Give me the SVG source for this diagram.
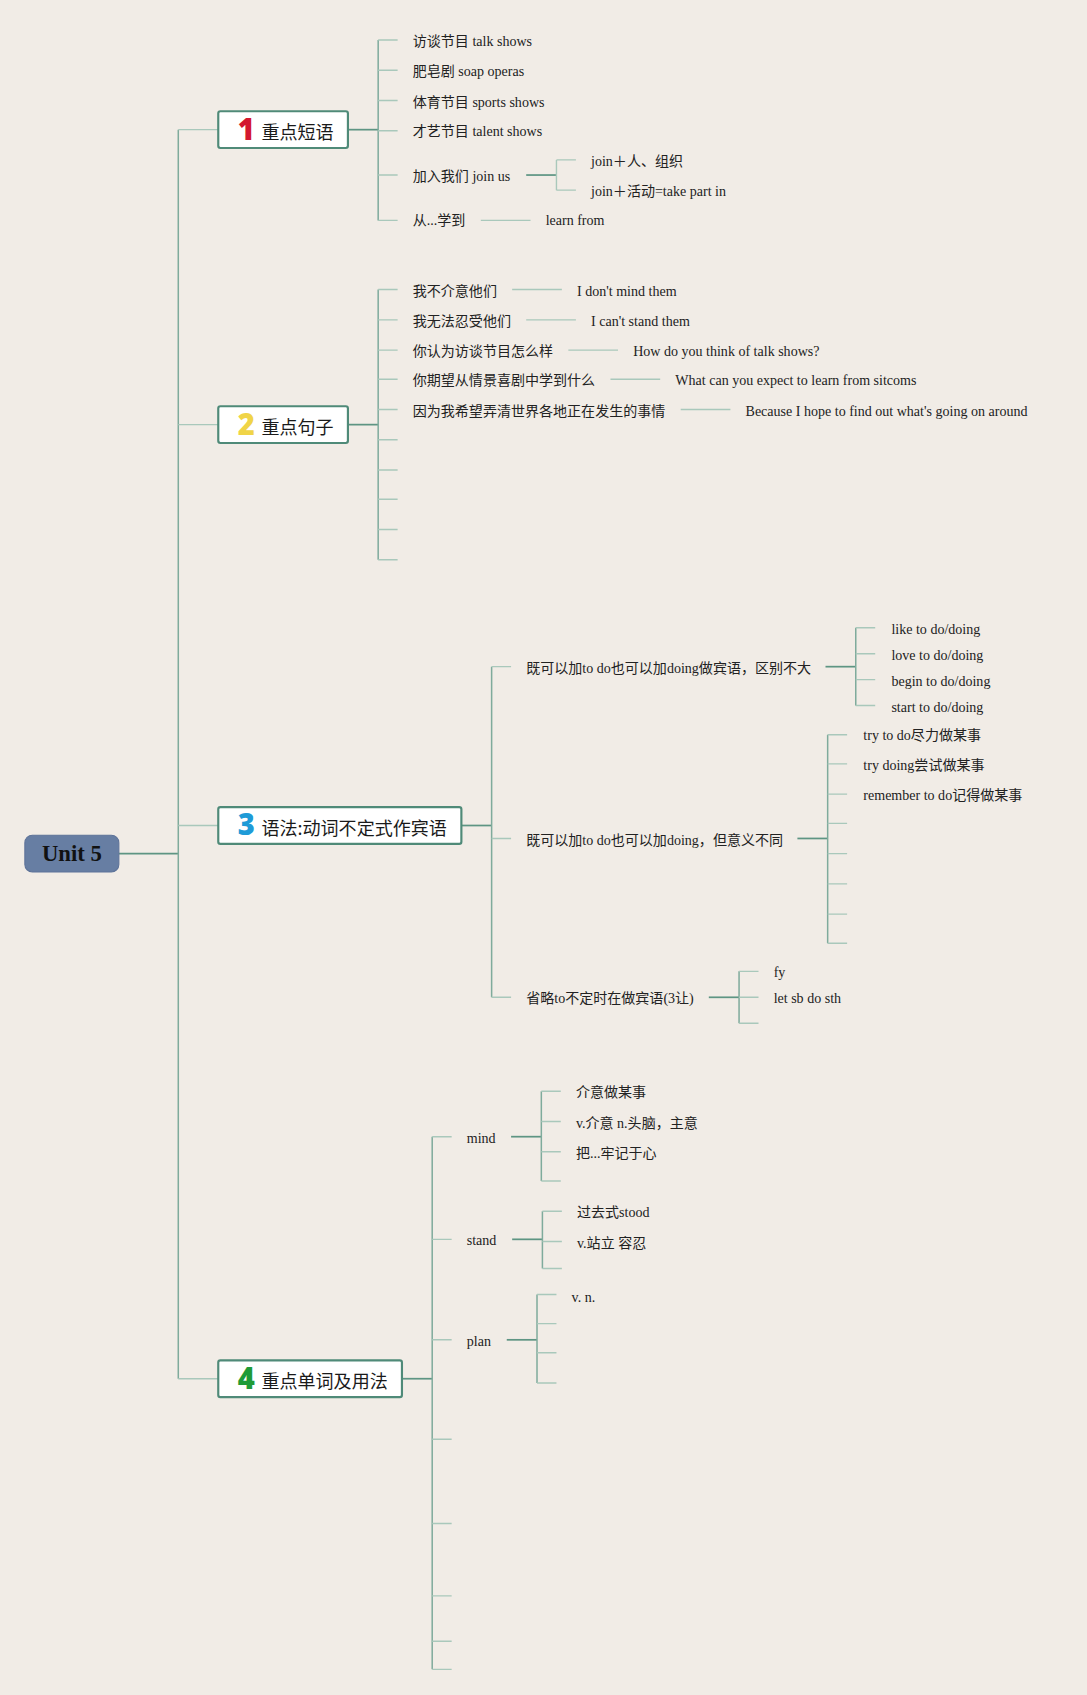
<svg xmlns="http://www.w3.org/2000/svg" width="1087" height="1695" viewBox="0 0 1087 1695">
<style>
.bg{fill:#f1ece6}
.d{stroke:#5e9583;stroke-width:1.6;fill:none}
.m{stroke:#7fab9c;stroke-width:1.4;fill:none}
.l{stroke:#a9c8bb;stroke-width:1.3;fill:none}
.t{font-family:"Liberation Serif","Noto Sans CJK SC",serif;font-size:13px;fill:#222;dominant-baseline:central}
.box{fill:#ffffff;stroke:#4f8a78;stroke-width:2}
.bt{font-family:"Noto Sans CJK SC","Noto Sans",sans-serif;font-size:16.7px;fill:#1a1a1a;dominant-baseline:central}
.num{font-family:"Noto Sans","DejaVu Sans",sans-serif;font-size:27px;font-weight:900;dominant-baseline:central}
.root{fill:#677ea3;stroke:#5e7399;stroke-width:1}
.rt{font-family:"Liberation Serif",serif;font-size:21px;font-weight:bold;fill:#111;dominant-baseline:central}
</style>
<rect class="bg" x="0" y="0" width="1087" height="1695"/>
<g transform="scale(1.0805)">
<g id="connectors">
  <path class="d" d="M110,790 H165"/>
  <path class="m" d="M165,120 V1276"/>
  <path class="l" d="M165,120 H202 M165,393 H202 M165,764 H202 M165,1276 H202"/>
  <path class="d" d="M322,120 H350"/>
  <path class="m" d="M350,37 V204"/>
  <path class="l" d="M350,37 H368 M350,65 H368 M350,93 H368 M350,121 H368 M350,162 H368 M350,204 H368"/>
  <path class="d" d="M487,162 H515"/>
  <path class="l" d="M515,148 V176 M515,148 H533 M515,176 H533"/>
  <path class="l" d="M445,204 H491"/>
  <path class="d" d="M322,393 H350"/>
  <path class="m" d="M350,268 V518"/>
  <path class="l" d="M350,268 H368 M350,296 H368 M350,324 H368 M350,351 H368 M350,379 H368 M350,407 H368 M350,435 H368 M350,462 H368 M350,490 H368 M350,518 H368"/>
  <path class="l" d="M474,268 H520 M487,296 H533 M526,324 H572 M565,351 H611 M630,379 H676"/>
  <path class="d" d="M427,764 H455"/>
  <path class="m" d="M455,617 V923"/>
  <path class="l" d="M455,617 H473 M455,776 H473 M455,923 H473"/>
  <path class="d" d="M764,617 H792"/>
  <path class="m" d="M792,581 V653"/>
  <path class="l" d="M792,581 H810 M792,605 H810 M792,629 H810 M792,653 H810"/>
  <path class="d" d="M738,776 H766"/>
  <path class="m" d="M766,680 V873"/>
  <path class="l" d="M766,680 H784 M766,707 H784 M766,735 H784 M766,762 H784 M766,790 H784 M766,818 H784 M766,846 H784 M766,873 H784"/>
  <path class="d" d="M656,923 H684"/>
  <path class="m" d="M684,899 V947"/>
  <path class="l" d="M684,899 H702 M684,923 H702 M684,947 H702"/>
  <path class="d" d="M372,1276 H400"/>
  <path class="m" d="M400,1052 V1545"/>
  <path class="l" d="M400,1052 H418 M400,1147 H418 M400,1240 H418 M400,1332 H418 M400,1410 H418 M400,1477 H418 M400,1519 H418 M400,1545 H418"/>
  <path class="d" d="M473,1052 H501"/>
  <path class="m" d="M501,1010 V1093"/>
  <path class="l" d="M501,1010 H519 M501,1038 H519 M501,1066 H519 M501,1093 H519"/>
  <path class="d" d="M474,1147 H502"/>
  <path class="m" d="M502,1121 V1174"/>
  <path class="l" d="M502,1121 H520 M502,1149 H520 M502,1174 H520"/>
  <path class="d" d="M469,1240 H497"/>
  <path class="m" d="M497,1198 V1280"/>
  <path class="l" d="M497,1198 H515 M497,1225 H515 M497,1252 H515 M497,1280 H515"/>
</g>
<g id="root">
  <rect class="root" x="23" y="773" width="87" height="34" rx="7"/>
  <text class="rt" x="66.5" y="790" text-anchor="middle">Unit 5</text>
</g>
<g id="n1">
  <rect class="box" x="202" y="103" width="120" height="34" rx="2"/>
  <text class="num" x="228" y="119" text-anchor="middle" fill="#d3182f">1</text>
  <text class="bt" x="242" y="121">重点短语</text>
</g>
<g id="n2">
  <rect class="box" x="202" y="376" width="120" height="34" rx="2"/>
  <text class="num" x="228" y="392" text-anchor="middle" fill="#f0d447">2</text>
  <text class="bt" x="242" y="394">重点句子</text>
</g>
<g id="n3">
  <rect class="box" x="202" y="747" width="225" height="34" rx="2"/>
  <text class="num" x="228" y="763" text-anchor="middle" fill="#1f9bd7">3</text>
  <text class="bt" x="242" y="765">语法:动词不定式作宾语</text>
</g>
<g id="n4">
  <rect class="box" x="202" y="1259" width="170" height="34" rx="2"/>
  <text class="num" x="228" y="1275" text-anchor="middle" fill="#1f9b37">4</text>
  <text class="bt" x="242" y="1277">重点单词及用法</text>
</g>
<g id="leaves1">
  <text class="t" x="382" y="38">访谈节目 talk shows</text>
  <text class="t" x="382" y="66">肥皂剧 soap operas</text>
  <text class="t" x="382" y="94">体育节目 sports shows</text>
  <text class="t" x="382" y="121">才艺节目 talent shows</text>
  <text class="t" x="382" y="163">加入我们 join us</text>
  <text class="t" x="547" y="149">join＋人、组织</text>
  <text class="t" x="547" y="177">join＋活动=take part in</text>
  <text class="t" x="382" y="204">从...学到</text>
  <text class="t" x="505" y="204">learn from</text>
</g>
<g id="leaves2">
  <text class="t" x="382" y="269">我不介意他们</text>
  <text class="t" x="534" y="269">I don't mind them</text>
  <text class="t" x="382" y="297">我无法忍受他们</text>
  <text class="t" x="547" y="297">I can't stand them</text>
  <text class="t" x="382" y="325">你认为访谈节目怎么样</text>
  <text class="t" x="586" y="325">How do you think of talk shows?</text>
  <text class="t" x="382" y="352">你期望从情景喜剧中学到什么</text>
  <text class="t" x="625" y="352">What can you expect to learn from sitcoms</text>
  <text class="t" x="382" y="380">因为我希望弄清世界各地正在发生的事情</text>
  <text class="t" x="690" y="380">Because I hope to find out what's going on around</text>
</g>
<g id="leaves3">
  <text class="t" x="487" y="618">既可以加to do也可以加doing做宾语，区别不大</text>
  <text class="t" x="825" y="582">like to do/doing</text>
  <text class="t" x="825" y="606">love to do/doing</text>
  <text class="t" x="825" y="630">begin to do/doing</text>
  <text class="t" x="825" y="654">start to do/doing</text>
  <text class="t" x="487" y="777">既可以加to do也可以加doing，但意义不同</text>
  <text class="t" x="799" y="680">try to do尽力做某事</text>
  <text class="t" x="799" y="708">try doing尝试做某事</text>
  <text class="t" x="799" y="736">remember to do记得做某事</text>
  <text class="t" x="487" y="924">省略to不定时在做宾语(3让)</text>
  <text class="t" x="716" y="900">fy</text>
  <text class="t" x="716" y="924">let sb do sth</text>
</g>
<g id="leaves4">
  <text class="t" x="432" y="1053">mind</text>
  <text class="t" x="533" y="1011">介意做某事</text>
  <text class="t" x="533" y="1039">v.介意 n.头脑，主意</text>
  <text class="t" x="533" y="1067">把...牢记于心</text>
  <text class="t" x="432" y="1148">stand</text>
  <text class="t" x="534" y="1122">过去式stood</text>
  <text class="t" x="534" y="1150">v.站立 容忍</text>
  <text class="t" x="432" y="1241">plan</text>
  <text class="t" x="529" y="1200">v. n.</text>
</g>
</g>
</svg>
